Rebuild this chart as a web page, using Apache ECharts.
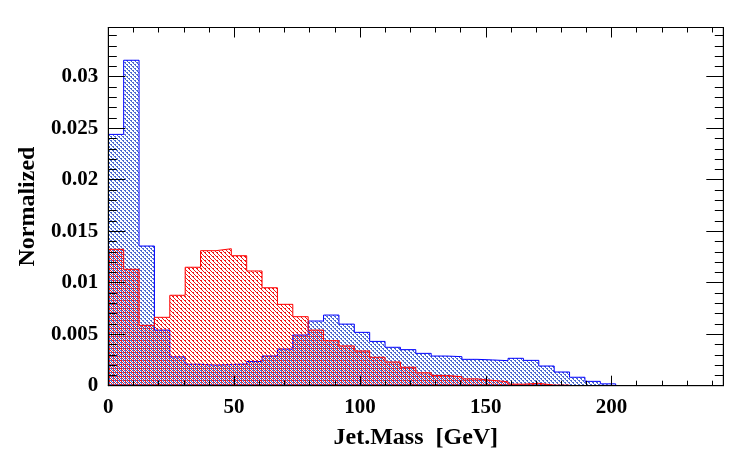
<!DOCTYPE html>
<html>
<head>
<meta charset="utf-8">
<script src="https://cdn.jsdelivr.net/npm/echarts@6/dist/echarts.min.js"></script>
<style>
html,body{margin:0;padding:0;background:#ffffff;}
#chart{width:736px;height:454px;}
</style>
</head>
<body>
<div id="chart"></div>
<script>
// ---- data ----
const xMin = 0;
const xMax = 244.4;
const nBins = 40;
const yMin = 0;
const yMax = 0.03478;
const xTitle = 'Jet.Mass  [GeV]';
const yTitle = 'Normalized';

const blueValues = [
  0.0244, 0.0316, 0.01356, 0.0054, 0.0028, 0.00208, 0.0020, 0.00206, 0.0021, 0.00235,
  0.00288, 0.00356, 0.00492, 0.00628, 0.00686, 0.00598, 0.00518, 0.0043, 0.00373, 0.0035,
  0.00314, 0.00288, 0.00282, 0.00256, 0.0025, 0.00243, 0.00266, 0.00246, 0.00191, 0.00133,
  0.00082, 0.00042, 0.00018, 0, 0, 0, 0, 0, 0, 0
];
const redValues = [
  0.01324, 0.0113, 0.00586, 0.00664, 0.00878, 0.0115, 0.01311, 0.0133, 0.01262, 0.01114,
  0.00951, 0.0079, 0.0067, 0.0054, 0.00437, 0.00386, 0.00337, 0.00276, 0.0023, 0.00179,
  0.00125, 0.0010, 0.00087, 0.00066, 0.00052, 0.00038, 0.00015, 0.00023, 0.00006, 0.00006,
  0, 0, 0, 0, 0, 0, 0, 0, 0, 0
];

// ---- helpers ----
const binW = (xMax - xMin) / nBins;
function histData(vals) {
  let last = vals.length - 1;
  while (last >= 0 && vals[last] === 0) last--;
  const d = [];
  for (let i = 0; i <= last; i++) d.push([xMin + i * binW, vals[i]]);
  d.push([xMin + (last + 1) * binW, 0]);
  return d;
}
function makePattern(color, test, size) {
  const c = document.createElement('canvas');
  c.width = size; c.height = size;
  const g = c.getContext('2d');
  g.fillStyle = color;
  for (let y = 0; y < size; y++) for (let x = 0; x < size; x++) {
    if (test(x, y)) g.fillRect(x, y, 1, 1);
  }
  return { image: c, repeat: 'repeat' };
}
const mod4 = v => ((v % 4) + 4) % 4;
// complementary hatch patterns (red diagonal dashes, blue dots)
const redPattern = makePattern('#f01414', (x, y) => {
  const d = mod4(x - y);
  return d === 0 || (d === 1 && y === 0);
}, 4);
const bluePattern = makePattern('#4a6bd0', (x, y) => {
  const d = mod4(x - y);
  return d === 2 || (d === 3 && y % 2 === 0);
}, 4);

const FONT = 'Liberation Serif';
const lbl = { fontFamily: FONT, fontWeight: 'bold', fontSize: 21, color: '#000' };

function xAx(pos, interval, len, labels, extra) {
  return Object.assign({
    type: 'value', position: pos, min: xMin, max: xMax, interval: interval, z: 10,
    axisLine: { show: true, onZero: false, lineStyle: { color: '#000', width: 1 } },
    axisTick: { show: true, inside: true, length: len, lineStyle: { color: '#000', width: 1 } },
    axisLabel: labels ? Object.assign({ show: true, margin: 11, showMaxLabel: false }, lbl) : { show: false },
    splitLine: { show: false }, minorTick: { show: false }
  }, extra || {});
}
function yAx(pos, interval, len, labels, extra) {
  return Object.assign({
    type: 'value', position: pos, min: yMin, max: yMax, interval: interval, z: 10,
    axisLine: { show: true, onZero: false, lineStyle: { color: '#000', width: 1 } },
    axisTick: { show: true, inside: true, length: len, lineStyle: { color: '#000', width: 1 } },
    axisLabel: labels ? Object.assign({ show: true, margin: 10, showMaxLabel: false }, lbl) : { show: false },
    splitLine: { show: false }, minorTick: { show: false }
  }, extra || {});
}

const chart = echarts.init(document.getElementById('chart'), null, { renderer: 'canvas' });
chart.setOption({
  animation: false,
  backgroundColor: '#ffffff',
  grid: { left: 108.3, right: 12.7, top: 27.5, bottom: 68.3, show: true,
          borderColor: '#000', borderWidth: 1, backgroundColor: 'transparent',
          containLabel: false, outerBoundsMode: 'none' },
  xAxis: [
    xAx('bottom', 10, 5, false),
    xAx('bottom', 50, 10, true, {
      name: xTitle, nameLocation: 'middle', nameGap: 40,
      nameTextStyle: { fontFamily: FONT, fontWeight: 'bold', fontSize: 24, color: '#000' }
    }),
    xAx('top', 10, 5, false),
    xAx('top', 50, 10, false)
  ],
  yAxis: [
    yAx('left', 0.001, 8.5, false),
    yAx('left', 0.005, 17, true, {
      name: yTitle, nameLocation: 'middle', nameGap: 68, nameRotate: 90,
      nameTextStyle: { fontFamily: FONT, fontWeight: 'bold', fontSize: 24, color: '#000' }
    }),
    yAx('right', 0.001, 8.5, false),
    yAx('right', 0.005, 17, false)
  ],
  series: [
    {
      type: 'line', step: 'end', xAxisIndex: 1, yAxisIndex: 1,
      data: histData(blueValues), showSymbol: false, symbol: 'none',
      lineStyle: { color: '#0000ff', width: 1 }, itemStyle: { color: '#0000ff' },
      areaStyle: { color: bluePattern, opacity: 1, origin: 'start' }, z: 2
    },
    {
      type: 'line', step: 'end', xAxisIndex: 1, yAxisIndex: 1,
      data: histData(redValues), showSymbol: false, symbol: 'none',
      lineStyle: { color: '#ff0000', width: 1 }, itemStyle: { color: '#ff0000' },
      areaStyle: { color: redPattern, opacity: 1, origin: 'start' }, z: 3
    }
  ]
});
</script>
</body>
</html>
